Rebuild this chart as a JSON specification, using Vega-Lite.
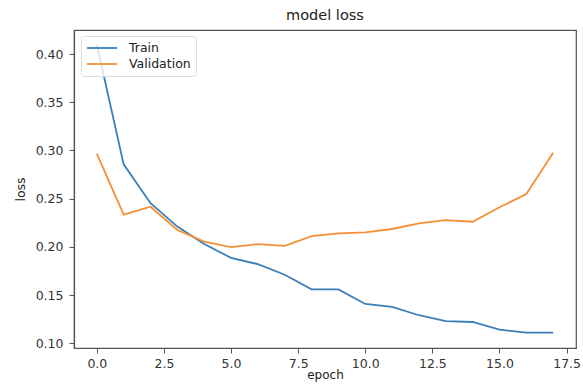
{
  "$schema": "https://vega.github.io/schema/vega-lite/v6.json",
  "width": 502,
  "height": 318,
  "autosize": {"type": "none"},
  "padding": {"left": 74, "top": 30, "right": 7, "bottom": 37},
  "background": "white",
  "title": {"text": "model loss", "font": "DejaVu Sans", "fontSize": 14.5, "fontWeight": "normal", "color": "#222", "anchor": "middle", "offset": 7},
  "data": {"values": [
    {"epoch": 0, "loss": 0.410, "series": "Train"},
    {"epoch": 1, "loss": 0.2856, "series": "Train"},
    {"epoch": 2, "loss": 0.2453, "series": "Train"},
    {"epoch": 3, "loss": 0.221, "series": "Train"},
    {"epoch": 4, "loss": 0.203, "series": "Train"},
    {"epoch": 5, "loss": 0.1885, "series": "Train"},
    {"epoch": 6, "loss": 0.182, "series": "Train"},
    {"epoch": 7, "loss": 0.171, "series": "Train"},
    {"epoch": 8, "loss": 0.1558, "series": "Train"},
    {"epoch": 9, "loss": 0.1558, "series": "Train"},
    {"epoch": 10, "loss": 0.1407, "series": "Train"},
    {"epoch": 11, "loss": 0.1376, "series": "Train"},
    {"epoch": 12, "loss": 0.129, "series": "Train"},
    {"epoch": 13, "loss": 0.1228, "series": "Train"},
    {"epoch": 14, "loss": 0.122, "series": "Train"},
    {"epoch": 15, "loss": 0.114, "series": "Train"},
    {"epoch": 16, "loss": 0.111, "series": "Train"},
    {"epoch": 17, "loss": 0.111, "series": "Train"},
    {"epoch": 0, "loss": 0.2967, "series": "Validation"},
    {"epoch": 1, "loss": 0.2333, "series": "Validation"},
    {"epoch": 2, "loss": 0.2416, "series": "Validation"},
    {"epoch": 3, "loss": 0.2175, "series": "Validation"},
    {"epoch": 4, "loss": 0.2054, "series": "Validation"},
    {"epoch": 5, "loss": 0.1996, "series": "Validation"},
    {"epoch": 6, "loss": 0.2027, "series": "Validation"},
    {"epoch": 7, "loss": 0.201, "series": "Validation"},
    {"epoch": 8, "loss": 0.211, "series": "Validation"},
    {"epoch": 9, "loss": 0.214, "series": "Validation"},
    {"epoch": 10, "loss": 0.215, "series": "Validation"},
    {"epoch": 11, "loss": 0.2185, "series": "Validation"},
    {"epoch": 12, "loss": 0.2244, "series": "Validation"},
    {"epoch": 13, "loss": 0.2278, "series": "Validation"},
    {"epoch": 14, "loss": 0.226, "series": "Validation"},
    {"epoch": 15, "loss": 0.241, "series": "Validation"},
    {"epoch": 16, "loss": 0.2547, "series": "Validation"},
    {"epoch": 17, "loss": 0.2977, "series": "Validation"}
  ]},
  "mark": {"type": "line", "strokeWidth": 1.8},
  "encoding": {
    "x": {
      "field": "epoch", "type": "quantitative",
      "scale": {"domain": [-0.85, 17.85], "nice": false, "zero": false},
      "axis": {"title": "epoch", "values": [0, 2.5, 5, 7.5, 10, 12.5, 15, 17.5], "format": ".1f", "grid": false, "tickSize": 5, "labelPadding": 4, "titlePadding": 0, "titleFontSize": 12}
    },
    "y": {
      "field": "loss", "type": "quantitative",
      "scale": {"domain": [0.095, 0.425], "nice": false, "zero": false},
      "axis": {"title": "loss", "values": [0.10, 0.15, 0.20, 0.25, 0.30, 0.35, 0.40], "format": ".2f", "grid": false, "tickSize": 5, "labelPadding": 6, "titlePadding": 8}
    },
    "color": {
      "field": "series", "type": "nominal",
      "scale": {"domain": ["Train", "Validation"], "range": ["#3a7fb8", "#f58f35"]},
      "legend": {"title": null, "orient": "none", "legendX": 7, "legendY": 6, "symbolType": "M-1,0H4", "symbolSize": 144, "symbolStrokeWidth": 1.8, "labelFontSize": 12.5, "labelFont": "DejaVu Sans", "labelColor": "#222", "fillColor": "rgba(255,255,255,0.8)", "strokeColor": "#ddd", "cornerRadius": 3, "padding": 5, "rowPadding": 2, "labelOffset": 29}
    }
  },
  "config": {
    "view": {"stroke": "#555", "strokeWidth": 1.2},
    "axis": {"labelFont": "DejaVu Sans", "titleFont": "DejaVu Sans", "labelFontSize": 12.5, "titleFontSize": 12.5, "titleFontWeight": "normal", "labelColor": "#333", "titleColor": "#222", "domainColor": "#555", "tickColor": "#555", "domainWidth": 1.2}
  }
}
